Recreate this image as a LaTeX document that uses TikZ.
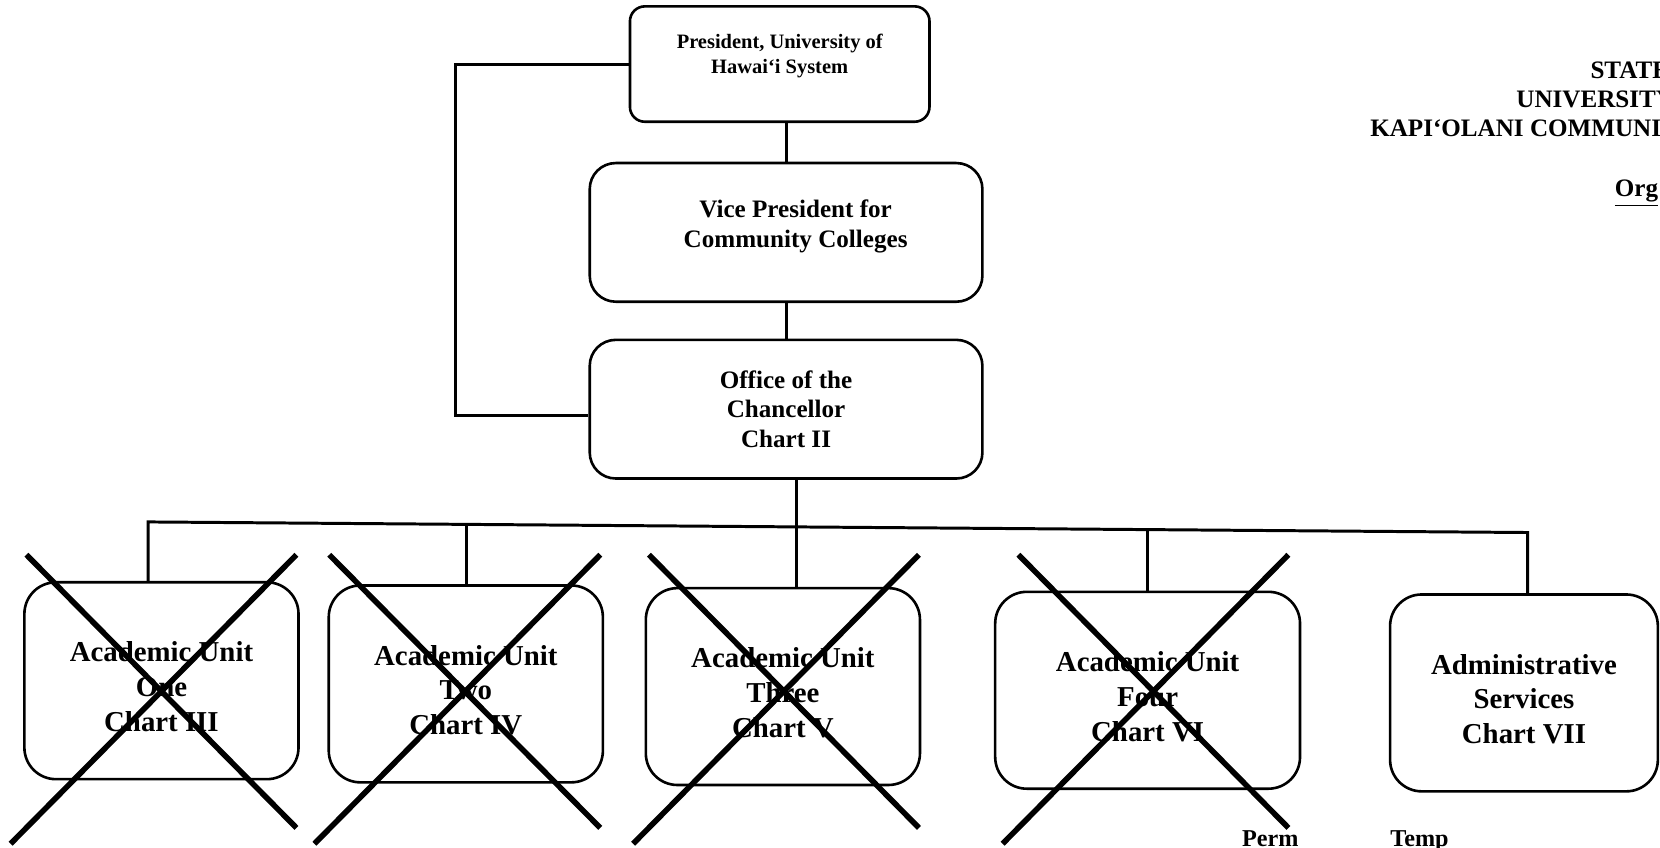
\documentclass[tikz,border=0pt]{standalone}
\usepackage{fontspec}
\setmainfont{Liberation Serif}
\usetikzlibrary{positioning,calc}
\tikzset{%
	presbox/.style  = {draw, rectangle, rounded corners=8pt, minimum width=5.66cm, minimum height=2.18cm, line width=1.4pt},
	prestext/.style = {align=center, font=\fontsize{11}{13.6}\selectfont\bfseries},
	midtext/.style  = {align=center, font=\fontsize{13.5}{15.9}\selectfont\bfseries},
	midbox/.style   = {draw, rectangle, rounded corners=14pt, minimum width=7.42cm, minimum height=2.62cm, line width=1.4pt, midtext},
	unitbox/.style  = {draw, rectangle, rounded corners=17pt, minimum width=5.18cm, minimum height=3.72cm, line width=1.4pt, align=center, text height=54.8pt, font=\fontsize{15.5}{18.7}\selectfont\bfseries},
	link/.style     = {line width=1.6pt},
	cross/.style    = {line width=3pt},
	heading/.style  = {anchor=base west, inner sep=0pt, font=\fontsize{13.5}{16}\selectfont\bfseries},
}

\begin{document}
\begin{tikzpicture}[x=0.02cm,y=-0.02cm]
	\useasboundingbox (0,0) rectangle (1568,801);
	\clip (0,0) rectangle (1568,801);

	% upper part
	\node [presbox] (pres) at (736.5,60.5) {};
	\node [prestext] (prestxt) at ([yshift=0.15cm]pres.center) {President, University of\\Hawai‘i System};
	\node [midbox] (vp) at (742.5,219.5) {};
	\node [midtext] (vptxt) at ([xshift=0.18cm,yshift=0.11cm]vp.center) {Vice President for\\Community Colleges};
	\node [midbox] (office) at (742.5,386.5) {Office of the\\Chancellor\\Chart II};

	% units
	\node [unitbox] (au1) at (152.5,643) {Academic Unit\\One\\Chart III};
	\node [unitbox] (au2) at (440,646) {Academic Unit\\Two\\Chart IV};
	\node [unitbox] (au3) at (739.5,648.5) {Academic Unit\\Three\\Chart V};
	\node [unitbox, minimum width=5.76cm] (au4) at (1084,652) {Academic Unit\\Four\\Chart VI};
	\node [unitbox, minimum width=5.06cm] (admin) at (1439.5,654.5) {Administrative\\Services\\Chart VII};

	% connectors
	\coordinate (loop) at (430,230);
	\draw [link] (pres.west) -| (loop) |- ($(office.west)+(0,6)$);
	\draw [link] (vp.north) -- (vp.north |- pres.south);
	\draw [link] (vp.south) -- (office.north);

	\coordinate (b1) at (140,493);
	\coordinate (b2) at (441,495.3);
	\coordinate (hub) at (752,497.7);
	\coordinate (b4) at (1084,500.2);
	\coordinate (b5) at (1443,503);
	\draw [link] (b1 |- au1.north) -- (b1) -- (b5) -- (b5 |- admin.north);
	\draw [link] (b2) -- (b2 |- au2.north);
	\draw [link] (hub |- office.south) -- (hub |- au3.north);
	\draw [link] (b4) -- (b4 |- au4.north);

	% crossed out units
	\draw [cross] ([shift={(-127.5,-119)}]au1.center) -- ([shift={(127.5,139)}]au1.center);
	\draw [cross] ([shift={(127.5,-119)}]au1.center) -- ([shift={(-142.5,154)}]au1.center);
	\draw [cross] ([shift={(-129,-122)}]au2.center) -- ([shift={(127,136)}]au2.center);
	\draw [cross] ([shift={(127,-122)}]au2.center) -- ([shift={(-143,151)}]au2.center);
	\draw [cross] ([shift={(-126.5,-124.5)}]au3.center) -- ([shift={(128.5,133.5)}]au3.center);
	\draw [cross] ([shift={(128.5,-124.5)}]au3.center) -- ([shift={(-141.5,148.5)}]au3.center);
	\draw [cross] ([shift={(-122,-128)}]au4.center) -- ([shift={(133,130)}]au4.center);
	\draw [cross] ([shift={(133,-128)}]au4.center) -- ([shift={(-137,145)}]au4.center);

	% title, cut off at the right
	\node [heading] (state) at (1502,74) {STATE};
	\node [heading] (univ) at (1432,101.5) {UNIVERSITY};
	\node [heading] (kcc) at (1294,129) {KAPI‘OLANI COMMUNITY};
	\node [heading] (org) at (1525,186) {\underline{Org}};

	% bottom labels
	\node [heading, font=\fontsize{13}{15}\selectfont\bfseries] (perm) at (1173,800) {Perm};
	\node [heading, font=\fontsize{13}{15}\selectfont\bfseries] (temp) at (1313,800) {Temp};
\end{tikzpicture}
\end{document}
